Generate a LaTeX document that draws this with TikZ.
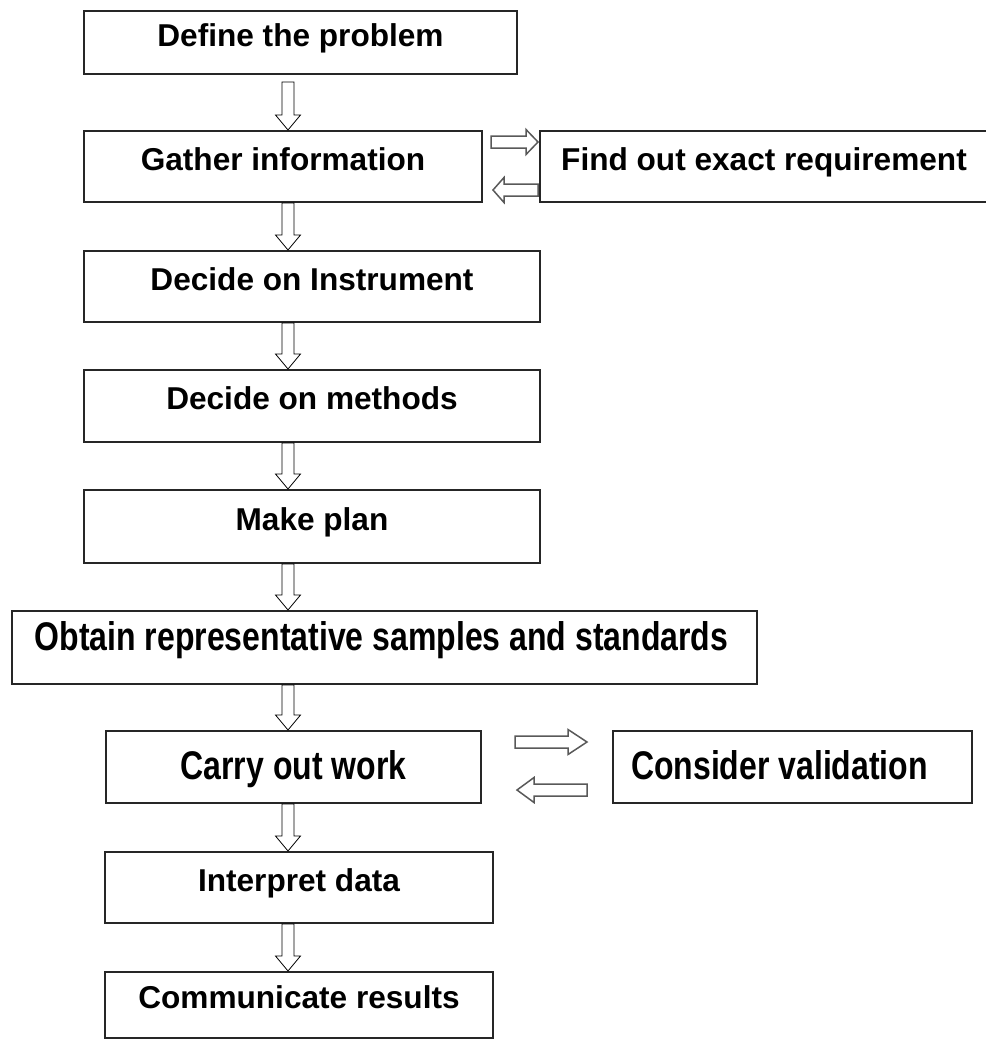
\documentclass[tikz,border=0pt]{standalone}
\usepackage{fontspec}
\setmainfont{Liberation Sans}
\usepackage{graphicx}
\usetikzlibrary{calc}
\newcommand{\narrowtext}[1]{\scalebox{.8}[1]{\fontsize{20}{24}\selectfont #1}}
\begin{document}
\begin{tikzpicture}[x=.5pt,y=-.5pt,
            box/.style={draw=black!85,line width=1pt,inner sep=0pt,
                font=\fontsize{15.8}{19}\selectfont\bfseries,
                text height=11.6pt,text depth=7.9pt},
            wide/.style={text height=14.6pt,text depth=11.8pt},
            hollow/.style={draw=black!65,line width=.75pt,fill=white,
                to path={let \p1=(\tikztostart),\p2=(\tikztotarget),
                    \n1={atan2(\y2-\y1,\x2-\x1)},\n2={veclen(\x2-\x1,\y2-\y1)} in
                    [shift={(\p1)},rotate=\n1]
                    (0pt,-3pt)--({\n2*1pt-#1},-3pt)--({\n2*1pt-#1},-6.25pt)--({\n2*1pt},0pt)
                    --({\n2*1pt-#1},6.25pt)--({\n2*1pt-#1},3pt)--(0pt,3pt)--cycle}},
            hollow/.default=7.5pt]
            \useasboundingbox (0,0) rectangle (986,1040);
            \coordinate (spine) at (288,0);
            \path
            (300.5,42.5) node[box,minimum width=216.5pt,minimum height=31.5pt] (b1) {Define the problem} % <<< main column
            (283,166.5) node[box,minimum width=199pt,minimum height=35.5pt] (b2) {Gather information}
            (764,166.5) node[box,minimum width=224pt,minimum height=35.5pt] (b3) {Find out exact requirement}
            (312,286.5) node[box,minimum width=228pt,minimum height=35.5pt] (b4) {Decide on Instrument}
            (312,406) node[box,minimum width=228pt,minimum height=36pt] (b5) {Decide on methods}
            (312,526.5) node[box,minimum width=228pt,minimum height=36.5pt] (b6) {Make plan}
            (384.5,647.5) node[box,wide,minimum width=372.5pt,minimum height=36.5pt] (b7) {\narrowtext{Obtain representative samples and standards}\hspace*{3pt}}
            (293.5,767) node[box,wide,text depth=1.8pt,minimum width=187.5pt,minimum height=36pt] (b8) {\narrowtext{Carry out work}} % <<< side loop
            (792.5,767) node[box,wide,text depth=1.8pt,minimum width=179.5pt,minimum height=36pt] (b9) {\narrowtext{Consider validation}\hspace*{13pt}}
            (299,887.5) node[box,minimum width=194pt,minimum height=35.5pt] (b10) {Interpret data}
            (299,1005) node[box,minimum width=194pt,minimum height=33pt] (b11) {Communicate results};
            \begin{scope}[every to/.style={hollow}]
                \draw ($(b1.south -| spine)+(0,7)$) to (b2.north -| spine);
                \draw (b2.south -| spine) to (b4.north -| spine);
                \draw (b4.south -| spine) to (b5.north -| spine);
                \draw (b5.south -| spine) to (b6.north -| spine);
                \draw (b6.south -| spine) to (b7.north -| spine);
                \draw (b7.south -| spine) to (b8.north -| spine);
                \draw (b8.south -| spine) to (b10.north -| spine);
                \draw (b10.south -| spine) to (b11.north -| spine);
            \end{scope}
            \draw[hollow=6pt] ($(b2.east)+(8,-24.5)$) to ($(b3.west)+(-1,-24.5)$);
            \draw[hollow=5.5pt] ($(b3.west)+(-1,23.5)$) to ($(b2.east)+(10,23.5)$);
            \draw[hollow=9.5pt] ($(b8.east)+(33,-25)$) to ($(b9.west)+(-25,-25)$);
            \draw[hollow=8.5pt] ($(b9.west)+(-25,23)$) to ($(b8.east)+(35,23)$);
        \end{tikzpicture}
\end{document}
